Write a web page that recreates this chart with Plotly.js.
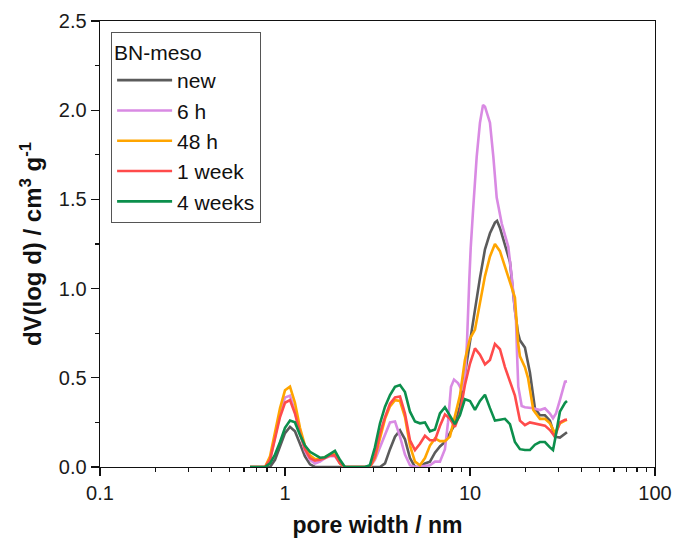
<!DOCTYPE html>
<html>
<head>
<meta charset="utf-8">
<script src="https://cdn.plot.ly/plotly-3.0.1.min.js"></script>
<style>html,body{margin:0;padding:0;background:#fff;}#chart{width:673px;height:538px;}</style>
</head>
<body>
<div id="chart"></div>
<script>
// pore width (nm) and dV(log d) (cm3/g) for each sample
const seriesNames = ["new", "6 h", "48 h", "1 week", "4 weeks"];
const legendTitle = "BN-meso";

const widthNew = [0.647,0.780,0.830,0.883,0.940,1.0,1.064,1.132,1.205,1.282,1.365,1.452,
  3.263,3.472,3.695,3.932,4.184,4.452,4.738,5.042,
  5.365,5.709,6.075,6.465,6.879,7.320,7.790,8.289,8.821,9.386,10.0,10.64,11.32,12.05,12.82,13.64,
  14.0,14.52,15.45,16.44,17.49,
  18.18,18.62,19.81,21.08,22.43,23.87,25.41,27.04,28.77,30.62,32.63,33.44];
const dvNew = [0,0,0,0.04,0.11,0.19,0.225,0.2,0.13,0.06,0.015,0,
  0,0.02,0.10,0.17,0.205,0.155,0.05,0,
  0,0.02,0.03,0.08,0.115,0.14,0.19,0.24,0.34,0.52,0.72,0.89,1.06,1.22,1.31,1.37,
  1.38,1.34,1.25,1.15,0.88,
  0.75,0.71,0.67,0.53,0.33,0.29,0.29,0.26,0.17,0.165,0.19,0.195];

const width6h = [0.647,0.780,0.830,0.883,0.940,1.0,1.064,1.132,1.205,1.282,1.365,1.452,1.545,1.644,1.750,1.862,1.982,2.109,
  2.877,3.062,3.263,3.472,3.695,3.932,4.184,4.452,4.738,5.042,
  6.075,6.465,6.879,7.320,7.606,7.894,8.194,8.611,9.053,9.386,9.634,9.913,10.09,10.42,10.87,11.32,11.76,12.05,12.82,13.37,13.94,14.84,16.11,16.81,17.73,17.95,18.24,19.03,19.81,21.99,23.87,25.41,27.04,28.10,29.17,30.62,32.63,33.44];
const dv6h = [0,0,0.04,0.17,0.30,0.39,0.40,0.31,0.19,0.09,0.04,0.02,0.03,0.05,0.06,0.06,0.02,0,
  0,0.04,0.11,0.18,0.25,0.255,0.17,0.07,0.01,0,
  0.01,0.03,0.03,0.10,0.25,0.45,0.49,0.47,0.43,0.50,0.70,1.05,1.23,1.46,1.74,1.93,2.03,2.02,1.93,1.74,1.51,1.365,1.234,1.066,0.82,0.64,0.45,0.342,0.335,0.329,0.319,0.329,0.30,0.273,0.30,0.375,0.478,0.48];

const width48h = [0.647,0.780,0.830,0.883,0.940,1.0,1.064,1.132,1.205,1.282,1.365,1.452,1.545,1.644,1.750,1.862,1.982,2.109,
  2.877,3.062,3.263,3.472,3.695,3.932,4.184,4.452,4.738,5.042,
  5.365,5.709,6.075,6.465,6.879,7.320,7.790,8.289,8.821,9.386,10.0,10.64,11.32,12.05,12.82,13.64,14.52,15.45,16.44,17.49,
  18.18,18.62,19.81,20.58,21.99,23.87,25.41,27.04,28.77,30.62,32.63,33.44];
const dv48h = [0,0,0.06,0.20,0.33,0.43,0.45,0.36,0.22,0.12,0.065,0.045,0.045,0.055,0.07,0.075,0.02,0,
  0,0.05,0.17,0.27,0.34,0.375,0.37,0.28,0.12,0.03,
  0.01,0.05,0.12,0.16,0.145,0.145,0.17,0.29,0.40,0.60,0.72,0.77,0.93,1.07,1.18,1.25,1.21,1.12,1.03,0.95,
  0.70,0.62,0.56,0.50,0.32,0.27,0.27,0.245,0.19,0.245,0.26,0.265];

const width1w = [0.647,0.780,0.830,0.883,0.940,1.0,1.064,1.132,1.205,1.282,1.365,1.452,1.545,1.644,1.750,1.862,1.982,2.109,
  2.877,3.062,3.263,3.472,3.695,3.932,4.184,4.452,4.738,5.042,
  5.365,5.709,6.075,6.465,6.879,7.320,7.790,8.289,8.821,9.386,10.0,10.64,11.32,12.05,12.82,13.64,14.52,15.45,16.44,17.49,
  18.62,19.81,21.08,22.43,23.87,25.41,27.04,28.77,30.62,32.63,33.44];
const dv1w = [0,0,0.04,0.16,0.28,0.36,0.375,0.30,0.19,0.10,0.05,0.035,0.04,0.05,0.065,0.065,0.02,0,
  0,0.06,0.19,0.28,0.355,0.39,0.395,0.30,0.15,0.095,
  0.13,0.175,0.15,0.15,0.23,0.295,0.27,0.225,0.30,0.46,0.58,0.665,0.63,0.575,0.60,0.69,0.66,0.56,0.48,0.40,
  0.26,0.235,0.25,0.245,0.24,0.232,0.207,0.17,0.25,0.265,0.265];

const width4w = [0.647,0.780,0.830,0.883,0.940,1.0,1.064,1.132,1.205,1.282,1.365,1.452,1.545,1.644,1.750,1.862,1.982,2.109,
  2.704,2.877,3.062,3.263,3.472,3.695,3.932,4.184,4.452,4.738,5.042,
  5.365,5.709,6.075,6.465,6.879,7.320,7.790,8.289,8.821,9.386,10.0,10.64,11.32,12.05,12.82,13.64,14.52,15.45,16.44,17.49,
  18.62,19.81,21.08,22.43,23.87,25.41,27.04,28.10,28.77,30.62,32.63,33.44];
const dv4w = [0,0,0.02,0.07,0.14,0.22,0.26,0.25,0.18,0.12,0.085,0.067,0.052,0.055,0.075,0.09,0.04,0,
  0,0.01,0.11,0.245,0.338,0.403,0.45,0.46,0.42,0.31,0.255,
  0.245,0.25,0.20,0.21,0.30,0.335,0.29,0.24,0.29,0.38,0.37,0.32,0.37,0.405,0.33,0.26,0.265,0.27,0.24,0.14,
  0.10,0.095,0.095,0.125,0.14,0.14,0.11,0.095,0.15,0.31,0.36,0.37];

const xTickVals = [0.1, 1, 10, 100];
const xTickText = ["0.1", "1", "10", "100"];
const xMinorVals = [0.2,0.3,0.4,0.5,0.6,0.7,0.8,0.9,2,3,4,5,6,7,8,9,20,30,40,50,60,70,80,90];

const colors = ["#5b5b5b", "#d98ae3", "#ffa500", "#ff4b4b", "#0c8f4c"];
const xs = [widthNew, width6h, width48h, width1w, width4w];
const ys = [dvNew, dv6h, dv48h, dv1w, dv4w];

const traces = seriesNames.map((n, i) => ({
  x: xs[i], y: ys[i], type: "scatter", mode: "lines", name: n,
  line: {color: colors[i], width: 2.6}
}));

const font = "'Liberation Sans', Arial, sans-serif";
const layout = {
  width: 673, height: 538,
  margin: {l: 100, r: 18, t: 21, b: 71},
  paper_bgcolor: "#fff", plot_bgcolor: "#fff",
  font: {family: font, size: 20, color: "#1a1a1a"},
  showlegend: true,
  legend: {
    x: 0.02, y: 0.976, xanchor: "left", yanchor: "top",
    bgcolor: "#fff", bordercolor: "#555", borderwidth: 1,
    font: {family: font, size: 21, color: "#111"},
    title: {text: legendTitle, font: {family: font, size: 21, color: "#111"}},
    itemwidth: 55,
    tracegroupgap: 0
  },
  xaxis: {
    type: "log", range: [-1, 2],
    tickmode: "array", tickvals: xTickVals, ticktext: xTickText,
    ticks: "outside", ticklen: 8, tickwidth: 1.3, tickcolor: "#111",
    minor: {tickmode: "array", tickvals: xMinorVals, ticks: "outside", ticklen: 4, tickwidth: 1.2, tickcolor: "#111", showgrid: false},
    showline: true, linecolor: "#111", linewidth: 1.4, mirror: true,
    showgrid: false, zeroline: false,
    tickfont: {family: font, size: 20, color: "#1a1a1a"},
    title: {text: "pore width / nm", font: {family: font, size: 23, color: "#111", weight: "bold"}, standoff: 14}
  },
  yaxis: {
    range: [0, 2.5], tickmode: "linear", tick0: 0, dtick: 0.5, tickformat: ".1f",
    ticks: "outside", ticklen: 8, tickwidth: 1.3, tickcolor: "#111",
    minor: {dtick: 0.25, ticks: "outside", ticklen: 4, tickwidth: 1.2, tickcolor: "#111", showgrid: false},
    showline: true, linecolor: "#111", linewidth: 1.4, mirror: true,
    showgrid: false, zeroline: false,
    tickfont: {family: font, size: 20, color: "#1a1a1a"},
    title: {text: "dV(log d) / cm<sup>3</sup> g<sup>-1</sup>", font: {family: font, size: 24, color: "#111", weight: "bold"}, standoff: 10}
  }
};

Plotly.newPlot("chart", traces, layout, {displayModeBar: false, staticPlot: true});
</script>
</body>
</html>
